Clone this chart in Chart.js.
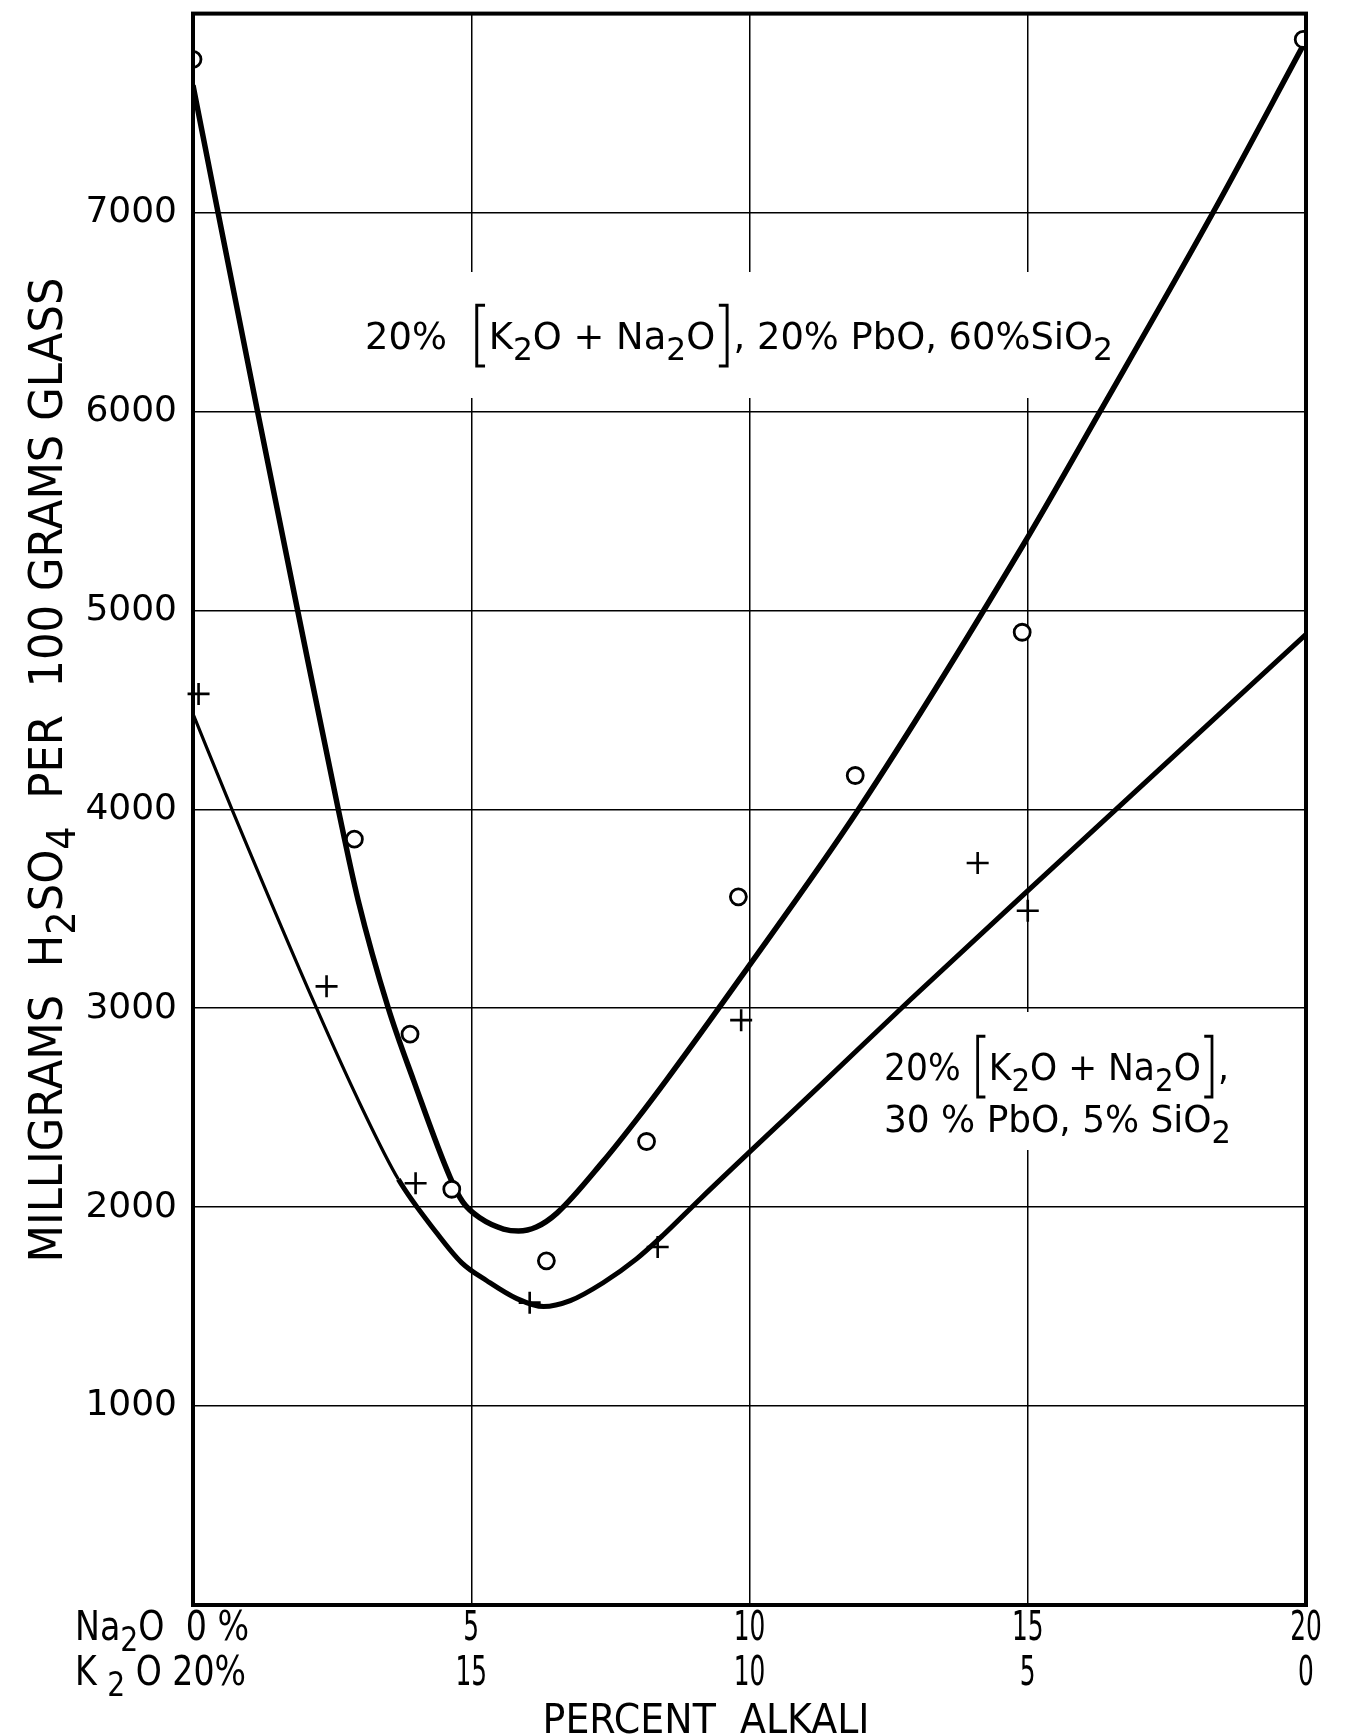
<!DOCTYPE html>
<html>
<head>
<meta charset="utf-8">
<script src="https://cdn.jsdelivr.net/npm/chart.js@4.4.1/dist/chart.umd.min.js"></script>
<style>
  html, body { margin: 0; padding: 0; background: #fff; }
  #wrap { width: 1353px; height: 1736px; }
</style>
</head>
<body>
<div id="wrap"><canvas id="chart" width="1353" height="1736"></canvas></div>
<script>
// 20% [K2O+Na2O], 20% PbO, 60% SiO2 -> circles
var pbo20X = [0, 2.9, 3.9, 4.65, 6.35, 8.15, 9.8, 11.9, 14.9, 19.95];
var pbo20Y = [7770, 3850, 2870, 2090, 1730, 2330, 3560, 4170, 4890, 7870];
// faired curve for that glass
var pbo20CurveX = [0, 0.45, 1.16, 1.88, 2.61, 2.97, 3.51, 3.96, 4.62, 4.85, 5.16, 5.58, 5.85, 6.17, 6.54, 7.37, 7.97, 8.51, 9.83, 11.96, 14.92, 16.3, 18.33, 19.95];
var pbo20CurveY = [7640, 7000, 6000, 5000, 4000, 3540, 3000, 2640, 2150, 2025, 1945, 1890, 1880, 1900, 1970, 2230, 2440, 2640, 3150, 4000, 5330, 6000, 7000, 7840];

// 20% [K2O+Na2O], 30% PbO -> crosses
var pbo30X = [0.1, 2.4, 4.0, 6.05, 8.35, 9.85, 14.1, 15.0];
var pbo30Y = [4580, 3110, 2120, 1520, 1800, 2940, 3730, 3490];
var pbo30CurveX = [0, 0.7, 2.22, 3.0, 3.69, 4.38, 4.83, 5.28, 5.82, 6.3, 6.78, 7.37, 7.97, 8.45, 9.11, 11.3, 12.88, 14.92, 20];
var pbo30CurveY = [4480, 4000, 3000, 2520, 2140, 1870, 1720, 1630, 1540, 1500, 1530, 1620, 1740, 1860, 2040, 2620, 3040, 3570, 4880];

// axis labels
var yTickValues = [1000, 2000, 3000, 4000, 5000, 6000, 7000];
var naTicks = [5, 10, 15, 20];
var naLabels = ['5', '10', '15', '20'];
var kLabels = ['15', '10', '5', '0'];

function pts(xs, ys) {
  return xs.map(function (x, i) { return { x: x, y: ys[i] }; });
}

var FONT = '"DejaVu Sans", sans-serif';

// draws text with subscripts ("_2") and tall square brackets, squeezed to a width
function drawRich(ctx, parts, x, y, size, targetW, align) {
  var sub = size * 0.85;
  var bw = size * 0.5;
  var w = 0;
  parts.forEach(function (p) {
    if (p === '[' || p === ']') { w += bw; return; }
    if (p.charAt(0) === '_') { ctx.font = sub + 'px ' + FONT; w += ctx.measureText(p.slice(1)).width; }
    else { ctx.font = size + 'px ' + FONT; w += ctx.measureText(p).width; }
  });
  var sx = targetW ? targetW / w : 1;
  var start = align === 'center' ? -w / 2 : 0;
  ctx.save();
  ctx.translate(x, y);
  ctx.scale(sx, 1);
  ctx.fillStyle = '#000';
  ctx.strokeStyle = '#000';
  ctx.textAlign = 'left';
  ctx.textBaseline = 'alphabetic';
  var cx = start;
  parts.forEach(function (p) {
    if (p === '[' || p === ']') {
      var top = -size * 1.15, bot = size * 0.45;
      ctx.lineWidth = size * 0.08;
      ctx.beginPath();
      if (p === '[') {
        ctx.moveTo(cx + bw * 0.8, top); ctx.lineTo(cx + bw * 0.35, top);
        ctx.lineTo(cx + bw * 0.35, bot); ctx.lineTo(cx + bw * 0.8, bot);
      } else {
        ctx.moveTo(cx + bw * 0.2, top); ctx.lineTo(cx + bw * 0.65, top);
        ctx.lineTo(cx + bw * 0.65, bot); ctx.lineTo(cx + bw * 0.2, bot);
      }
      ctx.stroke();
      cx += bw;
      return;
    }
    if (p.charAt(0) === '_') {
      ctx.font = sub + 'px ' + FONT;
      ctx.fillText(p.slice(1), cx, size * 0.28);
      cx += ctx.measureText(p.slice(1)).width;
    } else {
      ctx.font = size + 'px ' + FONT;
      ctx.fillText(p, cx, 0);
      cx += ctx.measureText(p).width;
    }
  });
  ctx.restore();
}

var paperPlugin = {
  id: 'paper',
  beforeDatasetsDraw: function (chart) {
    var ctx = chart.ctx;
    ctx.save();
    // white patches behind the two notes (they break the grid)
    ctx.fillStyle = '#fff';
    ctx.fillRect(350, 272, 775, 126);
    ctx.fillRect(870, 1012, 375, 138);
    ctx.restore();

    drawRich(ctx, ['20%  ', '[', 'K', '_2', 'O + Na', '_2', 'O', ']', ', 20% PbO, 60%SiO', '_2'], 365, 349, 38, 748, 'left');
    drawRich(ctx, ['20% ', '[', 'K', '_2', 'O + Na', '_2', 'O', ']', ','], 884, 1080, 38, 345, 'left');
    drawRich(ctx, ['30 % PbO, 5% SiO', '_2'], 884, 1132, 38, 347, 'left');
  },
  afterDatasetsDraw: function (chart) {
    var ctx = chart.ctx;
    var a = chart.chartArea;
    var xs = chart.scales.x;
    ctx.save();
    ctx.strokeStyle = '#000';
    ctx.lineWidth = 4;
    ctx.strokeRect(a.left, a.top, a.right - a.left, a.bottom - a.top);
    ctx.restore();

    // x labels: two rows (Na2O / K2O)
    naTicks.forEach(function (v, i) {
      var px = xs.getPixelForValue(v);
      ctx.save();
      ctx.translate(px, 0);
      ctx.scale(0.62, 1);
      ctx.font = '40px ' + FONT;
      ctx.fillStyle = '#000';
      ctx.textAlign = 'center';
      ctx.textBaseline = 'alphabetic';
      ctx.fillText(naLabels[i], 0, 1640);
      ctx.fillText(kLabels[i], 0, 1685);
      ctx.restore();
    });
    var x0 = xs.getPixelForValue(0);
    drawRich(ctx, ['Na', '_2', 'O  0 %'], x0 - 118, 1640, 40, 174, 'left');
    drawRich(ctx, ['K ', '_2', ' O 20%'], x0 - 118, 1685, 40, 171, 'left');
    drawRich(ctx, ['PERCENT  ALKALI'], 706, 1733, 40, 327, 'center');

    // y title, rotated
    ctx.save();
    ctx.translate(62, 770);
    ctx.rotate(-Math.PI / 2);
    drawRich(ctx, ['MILLIGRAMS  H', '_2', 'SO', '_4', '  PER  100 GRAMS GLASS'], 0, 0, 46, 985, 'center');
    ctx.restore();
  }
};

new Chart(document.getElementById('chart'), {
  type: 'scatter',
  data: {
    datasets: [
      {
        label: 'circles',
        data: pts(pbo20X, pbo20Y),
        pointStyle: 'circle',
        pointRadius: 8,
        pointBorderWidth: 2.8,
        pointBorderColor: '#000',
        pointBackgroundColor: '#fff',
        showLine: false,
        clip: 0
      },
      {
        label: 'crosses',
        data: pts(pbo30X, pbo30Y),
        pointStyle: 'cross',
        pointRadius: 11,
        pointBorderWidth: 2.6,
        pointBorderColor: '#000',
        showLine: false,
        clip: false
      },
      {
        label: 'curve 20% PbO',
        data: pts(pbo20CurveX, pbo20CurveY),
        showLine: true,
        pointRadius: 0,
        borderColor: '#000',
        borderWidth: 5.5,
        cubicInterpolationMode: 'monotone'
      },
      {
        label: 'curve 30% PbO',
        data: pts(pbo30CurveX, pbo30CurveY),
        showLine: true,
        pointRadius: 0,
        borderColor: '#000',
        borderWidth: 5,
        cubicInterpolationMode: 'monotone',
        segment: {
          borderWidth: function (c) { return c.p1.parsed.x <= 3.7 ? 3.2 : 5; }
        }
      }
    ]
  },
  options: {
    responsive: false,
    animation: false,
    devicePixelRatio: 1,
    layout: { padding: { left: 0, right: 47, top: 11, bottom: 0 } },
    plugins: {
      legend: { display: false },
      tooltip: { enabled: false }
    },
    scales: {
      x: {
        type: 'linear',
        min: 0,
        max: 20,
        ticks: { display: false, stepSize: 5 },
        grid: { color: '#000', lineWidth: 1.5, drawTicks: false },
        border: { display: false },
        afterFit: function (s) { s.height = 131; s.paddingLeft = 0; s.paddingRight = 0; }
      },
      y: {
        type: 'linear',
        min: 0,
        max: 8000,
        ticks: {
          stepSize: 1000,
          padding: 16,
          color: '#000',
          font: { family: 'DejaVu Sans', size: 36 },
          callback: function (v) { return yTickValues.indexOf(v) >= 0 ? String(v) : ''; }
        },
        grid: { color: '#000', lineWidth: 1.5, drawTicks: false },
        border: { display: false },
        afterFit: function (s) { s.width = 193; s.paddingTop = 0; s.paddingBottom = 0; }
      }
    }
  },
  plugins: [paperPlugin]
});
</script>
</body>
</html>
